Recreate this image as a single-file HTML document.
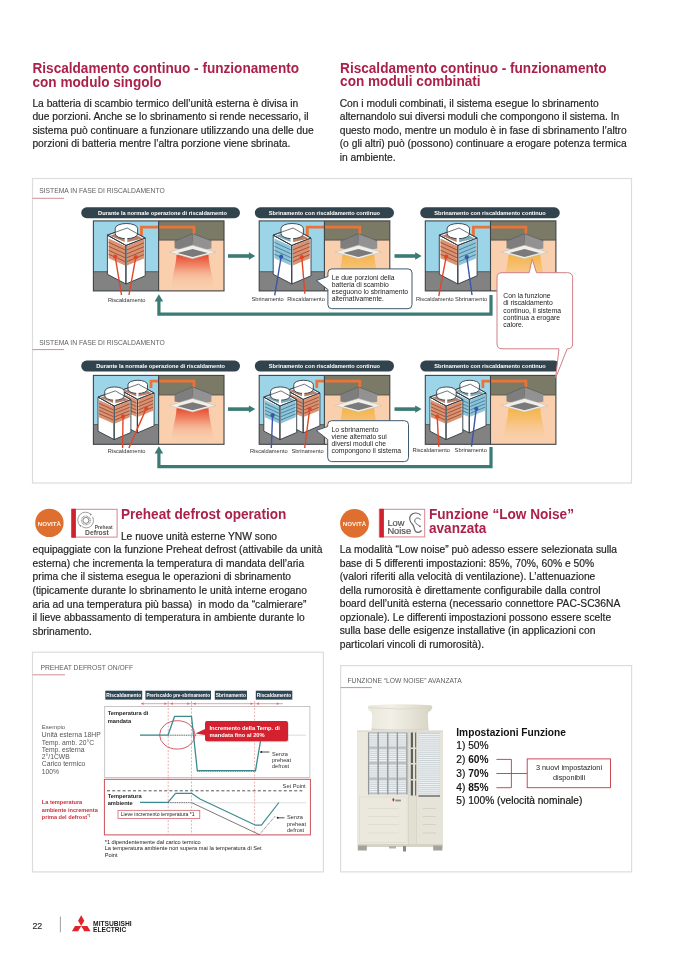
<!DOCTYPE html>
<html><head><meta charset="utf-8"><title>Riscaldamento continuo</title>
<style>
html,body{margin:0;padding:0;background:#fff;}
body{width:678px;height:959px;overflow:hidden;font-family:"Liberation Sans",sans-serif;}
svg{display:block;filter:blur(0.45px);font-family:"Liberation Sans",sans-serif;}
</style></head><body>
<svg width="678" height="959" viewBox="0 0 678 959">
<defs>
<linearGradient id="gr" x1="0" y1="0" x2="0" y2="1"><stop offset="0" stop-color="#e6492f"/><stop offset="0.3" stop-color="#ee7a5a" stop-opacity="0.85"/><stop offset="0.6" stop-color="#f4a88a" stop-opacity="0.45"/><stop offset="1" stop-color="#f9cfad" stop-opacity="0"/></linearGradient>
<linearGradient id="gy" x1="0" y1="0" x2="0" y2="1"><stop offset="0" stop-color="#f5b446"/><stop offset="0.35" stop-color="#f6bd66" stop-opacity="0.8"/><stop offset="0.7" stop-color="#f8c890" stop-opacity="0.4"/><stop offset="1" stop-color="#f9cfad" stop-opacity="0"/></linearGradient>
<linearGradient id="hood" x1="0" y1="0" x2="1" y2="0"><stop offset="0" stop-color="#e9e6da"/><stop offset="0.35" stop-color="#f2f0e7"/><stop offset="0.75" stop-color="#e2dfd2"/><stop offset="1" stop-color="#d6d2c3"/></linearGradient>
</defs>
<text transform="translate(32.5,72.8) scale(1,1.03)" x="0" y="0" font-size="13.6" fill="#ab214b" font-weight="bold">Riscaldamento continuo - funzionamento</text>
<text transform="translate(32.5,86.6) scale(1,1.03)" x="0" y="0" font-size="13.6" fill="#ab214b" font-weight="bold">con modulo singolo</text>
<text transform="translate(340.1,72.8) scale(1,1.03)" x="0" y="0" font-size="13.6" fill="#ab214b" font-weight="bold">Riscaldamento continuo - funzionamento</text>
<text transform="translate(340.1,86.4) scale(1,1.03)" x="0" y="0" font-size="13.6" fill="#ab214b" font-weight="bold">con moduli combinati</text>
<text x="32.4" y="106.75" font-size="10.27" fill="#1f1f1f" stroke="#1f1f1f" stroke-width="0.18">La batteria di scambio termico dell’unità esterna è divisa in</text>
<text x="32.4" y="120.33" font-size="10.27" fill="#1f1f1f" stroke="#1f1f1f" stroke-width="0.18">due porzioni. Anche se lo sbrinamento si rende necessario, il</text>
<text x="32.4" y="133.91" font-size="10.27" fill="#1f1f1f" stroke="#1f1f1f" stroke-width="0.18">sistema può continuare a funzionare utilizzando una delle due</text>
<text x="32.4" y="147.49" font-size="10.27" fill="#1f1f1f" stroke="#1f1f1f" stroke-width="0.18">porzioni di batteria mentre l’altra porzione viene sbrinata.</text>
<text x="339.7" y="106.6" font-size="10.27" fill="#1f1f1f" stroke="#1f1f1f" stroke-width="0.18">Con i moduli combinati, il sistema esegue lo sbrinamento</text>
<text x="339.7" y="120.2" font-size="10.27" fill="#1f1f1f" stroke="#1f1f1f" stroke-width="0.18">alternandolo sui diversi moduli che compongono il sistema. In</text>
<text x="339.7" y="133.8" font-size="10.27" fill="#1f1f1f" stroke="#1f1f1f" stroke-width="0.18">questo modo, mentre un modulo è in fase di sbrinamento l’altro</text>
<text x="339.7" y="147.4" font-size="10.27" fill="#1f1f1f" stroke="#1f1f1f" stroke-width="0.18">(o gli altri) può (possono) continuare a erogare potenza termica</text>
<text x="339.7" y="161.0" font-size="10.27" fill="#1f1f1f" stroke="#1f1f1f" stroke-width="0.18">in ambiente.</text>
<rect x="32.5" y="178.5" width="599" height="304.5" fill="#fff" stroke="#dcdcdc" stroke-width="1.2"/>
<text x="39.2" y="193.3" font-size="6.75" fill="#5e5e5e">SISTEMA IN FASE DI RISCALDAMENTO</text>
<line x1="32.5" y1="198.3" x2="64" y2="198.3" stroke="#cf8f96" stroke-width="1"/>
<text x="39.2" y="344.5" font-size="6.75" fill="#5e5e5e">SISTEMA IN FASE DI RISCALDAMENTO</text>
<line x1="32.5" y1="349.6" x2="64" y2="349.6" stroke="#cf8f96" stroke-width="1"/>
<rect x="81.2" y="207.3" width="158.8" height="10.899999999999977" rx="5.449999999999989" fill="#31434c"/>
<text x="162.5" y="214.75" font-size="5.65" fill="#fff" font-weight="bold" text-anchor="middle">Durante la normale operazione di riscaldamento</text>
<rect x="254.8" y="207.3" width="139.2" height="10.899999999999977" rx="5.449999999999989" fill="#31434c"/>
<text x="324.4" y="214.75" font-size="5.65" fill="#fff" font-weight="bold" text-anchor="middle">Sbrinamento con riscaldamento continuo</text>
<rect x="420.2" y="207.3" width="139.59999999999997" height="10.899999999999977" rx="5.449999999999989" fill="#31434c"/>
<text x="490.0" y="214.75" font-size="5.65" fill="#fff" font-weight="bold" text-anchor="middle">Sbrinamento con riscaldamento continuo</text>
<rect x="93.4" y="220.9" width="130.6" height="70.0" fill="#9dd5e8"/>
<rect x="93.4" y="271.7" width="65.19999999999999" height="19.19999999999999" fill="#828282"/>
<line x1="93.4" y1="271.7" x2="158.6" y2="271.7" stroke="#4a4a4a" stroke-width="0.8"/>
<rect x="158.6" y="220.9" width="65.4" height="70.0" fill="#f9cfad"/>
<rect x="158.6" y="220.9" width="65.4" height="19.2" fill="#7b7a66"/>
<line x1="158.6" y1="240.1" x2="224.0" y2="240.1" stroke="#4d4d44" stroke-width="0.8"/>
<path d="M176.5,255 L208.5,255 C209.0,267 213.5,276.29999999999995 213.5,290.29999999999995 L171.5,290.29999999999995 C171.5,276.29999999999995 176.0,267 176.5,255 Z" fill="url(#gr)"/>
<polygon points="174.60,241.20 192.60,233.60 192.60,251.50 174.60,248.20" fill="#7e7e7e"/>
<polygon points="192.60,233.60 211.40,240.80 211.40,248.50 192.60,251.50" fill="#929292"/>
<polyline points="174.60,241.20 192.60,233.60 211.40,240.80" fill="none" stroke="#5f5f5f" stroke-width="0.8"/>
<line x1="192.6" y1="233.6" x2="192.6" y2="251" stroke="#6a6a6a" stroke-width="0.6"/>
<polygon points="169.40,252.20 192.60,245.20 215.70,252.20 192.60,258.80" fill="#f1efe9" stroke="#bdbab2" stroke-width="0.5"/>
<polygon points="177.50,253.00 192.60,249.00 207.70,253.00 192.60,257.00" fill="#7a7a7a"/>
<polyline points="141.50,236.00 141.50,227.20 194.00,227.20 194.00,233.80" fill="none" stroke="#e8743a" stroke-width="2.8"/>
<line x1="158.6" y1="220.9" x2="158.6" y2="290.9" stroke="#3f4447" stroke-width="1.1"/>
<rect x="93.4" y="220.9" width="130.6" height="70.0" fill="none" stroke="#3f4447" stroke-width="1.1"/>
<polygon points="107.40,235.10 126.00,245.40 126.00,284.00 107.40,274.30" fill="#fff" stroke="#2f3c44" stroke-width="0.9" stroke-linejoin="round"/>
<polygon points="126.00,245.40 145.20,238.10 145.20,275.80 126.00,284.00" fill="#fff" stroke="#2f3c44" stroke-width="0.9" stroke-linejoin="round"/>
<polygon points="107.40,235.10 127.20,228.00 145.20,238.10 126.00,245.40" fill="#fff" stroke="#2f3c44" stroke-width="0.9" stroke-linejoin="round"/>
<polygon points="110.00,235.80 126.60,229.80 126.00,242.50" fill="#b88068"/>
<polygon points="126.60,229.80 142.80,238.40 126.00,242.50" fill="#b88068"/>
<path d="M115.20,228.40 A11.20,4.90 0 0 1 137.60,228.40 V233.80 A11.20,4.90 0 0 1 115.20,233.80 Z" fill="#fff" stroke="#2f3c44" stroke-width="0.9"/>
<polygon points="124.70,234.00 127.30,234.00 127.30,244.50 124.70,244.50" fill="#fff"/>
<polyline points="107.40,235.10 127.20,228.00 145.20,238.10" fill="none" stroke="#2f3c44" stroke-width="0.7"/>
<polyline points="107.40,235.10 126.00,245.40 145.20,238.10" fill="none" stroke="#2f3c44" stroke-width="0.9"/>
<polygon points="108.60,238.40 125.00,246.00 125.00,265.40 108.60,258.20" fill="#dc9270"/>
<line x1="108.60" y1="242.36" x2="125.00" y2="249.88" stroke="#8f4c36" stroke-width="0.85"/>
<line x1="108.60" y1="246.32" x2="125.00" y2="253.76" stroke="#8f4c36" stroke-width="0.85"/>
<line x1="108.60" y1="250.28" x2="125.00" y2="257.64" stroke="#8f4c36" stroke-width="0.85"/>
<line x1="108.60" y1="254.24" x2="125.00" y2="261.52" stroke="#8f4c36" stroke-width="0.85"/>
<polygon points="127.00,246.00 144.00,239.00 144.00,258.40 127.00,265.40" fill="#dc9270"/>
<line x1="127.00" y1="249.88" x2="144.00" y2="242.88" stroke="#8f4c36" stroke-width="0.85"/>
<line x1="127.00" y1="253.76" x2="144.00" y2="246.76" stroke="#8f4c36" stroke-width="0.85"/>
<line x1="127.00" y1="257.64" x2="144.00" y2="250.64" stroke="#8f4c36" stroke-width="0.85"/>
<line x1="127.00" y1="261.52" x2="144.00" y2="254.52" stroke="#8f4c36" stroke-width="0.85"/>
<line x1="126.00" y1="245.40" x2="126.00" y2="284.00" stroke="#2f3c44" stroke-width="0.7"/>
<rect x="259.20000000000005" y="220.9" width="130.6" height="70.0" fill="#9dd5e8"/>
<rect x="259.20000000000005" y="271.7" width="65.19999999999993" height="19.19999999999999" fill="#828282"/>
<line x1="259.20000000000005" y1="271.7" x2="324.4" y2="271.7" stroke="#4a4a4a" stroke-width="0.8"/>
<rect x="324.4" y="220.9" width="65.40000000000009" height="70.0" fill="#f9cfad"/>
<rect x="324.4" y="220.9" width="65.40000000000009" height="19.2" fill="#7b7a66"/>
<line x1="324.4" y1="240.1" x2="389.80000000000007" y2="240.1" stroke="#4d4d44" stroke-width="0.8"/>
<path d="M342.3,255 L374.3,255 C374.8,267 379.3,276.29999999999995 379.3,290.29999999999995 L337.3,290.29999999999995 C337.3,276.29999999999995 341.8,267 342.3,255 Z" fill="url(#gy)"/>
<polygon points="340.40,241.20 358.40,233.60 358.40,251.50 340.40,248.20" fill="#7e7e7e"/>
<polygon points="358.40,233.60 377.20,240.80 377.20,248.50 358.40,251.50" fill="#929292"/>
<polyline points="340.40,241.20 358.40,233.60 377.20,240.80" fill="none" stroke="#5f5f5f" stroke-width="0.8"/>
<line x1="358.4" y1="233.6" x2="358.4" y2="251" stroke="#6a6a6a" stroke-width="0.6"/>
<polygon points="335.20,252.20 358.40,245.20 381.50,252.20 358.40,258.80" fill="#f1efe9" stroke="#bdbab2" stroke-width="0.5"/>
<polygon points="343.30,253.00 358.40,249.00 373.50,253.00 358.40,257.00" fill="#7a7a7a"/>
<polyline points="307.30,236.00 307.30,227.20 359.80,227.20 359.80,233.80" fill="none" stroke="#e8743a" stroke-width="2.8"/>
<line x1="324.4" y1="220.9" x2="324.4" y2="290.9" stroke="#3f4447" stroke-width="1.1"/>
<rect x="259.20000000000005" y="220.9" width="130.6" height="70.0" fill="none" stroke="#3f4447" stroke-width="1.1"/>
<polygon points="273.20,235.10 291.80,245.40 291.80,284.00 273.20,274.30" fill="#fff" stroke="#2f3c44" stroke-width="0.9" stroke-linejoin="round"/>
<polygon points="291.80,245.40 311.00,238.10 311.00,275.80 291.80,284.00" fill="#fff" stroke="#2f3c44" stroke-width="0.9" stroke-linejoin="round"/>
<polygon points="273.20,235.10 293.00,228.00 311.00,238.10 291.80,245.40" fill="#fff" stroke="#2f3c44" stroke-width="0.9" stroke-linejoin="round"/>
<polygon points="275.80,235.80 292.40,229.80 291.80,242.50" fill="#7fa9b8"/>
<polygon points="292.40,229.80 308.60,238.40 291.80,242.50" fill="#b88068"/>
<path d="M281.00,228.40 A11.20,4.90 0 0 1 303.40,228.40 V233.80 A11.20,4.90 0 0 1 281.00,233.80 Z" fill="#fff" stroke="#2f3c44" stroke-width="0.9"/>
<polygon points="290.50,234.00 293.10,234.00 293.10,244.50 290.50,244.50" fill="#fff"/>
<polyline points="273.20,235.10 293.00,228.00 311.00,238.10" fill="none" stroke="#2f3c44" stroke-width="0.7"/>
<polyline points="273.20,235.10 291.80,245.40 311.00,238.10" fill="none" stroke="#2f3c44" stroke-width="0.9"/>
<polygon points="274.40,238.40 290.80,246.00 290.80,265.40 274.40,258.20" fill="#8fc5da"/>
<line x1="274.40" y1="242.36" x2="290.80" y2="249.88" stroke="#3b7a95" stroke-width="0.85"/>
<line x1="274.40" y1="246.32" x2="290.80" y2="253.76" stroke="#3b7a95" stroke-width="0.85"/>
<line x1="274.40" y1="250.28" x2="290.80" y2="257.64" stroke="#3b7a95" stroke-width="0.85"/>
<line x1="274.40" y1="254.24" x2="290.80" y2="261.52" stroke="#3b7a95" stroke-width="0.85"/>
<polygon points="292.80,246.00 309.80,239.00 309.80,258.40 292.80,265.40" fill="#dc9270"/>
<line x1="292.80" y1="249.88" x2="309.80" y2="242.88" stroke="#8f4c36" stroke-width="0.85"/>
<line x1="292.80" y1="253.76" x2="309.80" y2="246.76" stroke="#8f4c36" stroke-width="0.85"/>
<line x1="292.80" y1="257.64" x2="309.80" y2="250.64" stroke="#8f4c36" stroke-width="0.85"/>
<line x1="292.80" y1="261.52" x2="309.80" y2="254.52" stroke="#8f4c36" stroke-width="0.85"/>
<line x1="291.80" y1="245.40" x2="291.80" y2="284.00" stroke="#2f3c44" stroke-width="0.7"/>
<rect x="425.29999999999995" y="220.9" width="130.6" height="70.0" fill="#9dd5e8"/>
<rect x="425.29999999999995" y="271.7" width="65.20000000000005" height="19.19999999999999" fill="#828282"/>
<line x1="425.29999999999995" y1="271.7" x2="490.5" y2="271.7" stroke="#4a4a4a" stroke-width="0.8"/>
<rect x="490.5" y="220.9" width="65.39999999999998" height="70.0" fill="#f9cfad"/>
<rect x="490.5" y="220.9" width="65.39999999999998" height="19.2" fill="#7b7a66"/>
<line x1="490.5" y1="240.1" x2="555.9" y2="240.1" stroke="#4d4d44" stroke-width="0.8"/>
<path d="M508.4,255 L540.4,255 C540.9,267 545.4,276.29999999999995 545.4,290.29999999999995 L503.4,290.29999999999995 C503.4,276.29999999999995 507.9,267 508.4,255 Z" fill="url(#gy)"/>
<polygon points="506.50,241.20 524.50,233.60 524.50,251.50 506.50,248.20" fill="#7e7e7e"/>
<polygon points="524.50,233.60 543.30,240.80 543.30,248.50 524.50,251.50" fill="#929292"/>
<polyline points="506.50,241.20 524.50,233.60 543.30,240.80" fill="none" stroke="#5f5f5f" stroke-width="0.8"/>
<line x1="524.5" y1="233.6" x2="524.5" y2="251" stroke="#6a6a6a" stroke-width="0.6"/>
<polygon points="501.30,252.20 524.50,245.20 547.60,252.20 524.50,258.80" fill="#f1efe9" stroke="#bdbab2" stroke-width="0.5"/>
<polygon points="509.40,253.00 524.50,249.00 539.60,253.00 524.50,257.00" fill="#7a7a7a"/>
<polyline points="473.40,236.00 473.40,227.20 525.90,227.20 525.90,233.80" fill="none" stroke="#e8743a" stroke-width="2.8"/>
<line x1="490.5" y1="220.9" x2="490.5" y2="290.9" stroke="#3f4447" stroke-width="1.1"/>
<rect x="425.29999999999995" y="220.9" width="130.6" height="70.0" fill="none" stroke="#3f4447" stroke-width="1.1"/>
<polygon points="439.30,235.10 457.90,245.40 457.90,284.00 439.30,274.30" fill="#fff" stroke="#2f3c44" stroke-width="0.9" stroke-linejoin="round"/>
<polygon points="457.90,245.40 477.10,238.10 477.10,275.80 457.90,284.00" fill="#fff" stroke="#2f3c44" stroke-width="0.9" stroke-linejoin="round"/>
<polygon points="439.30,235.10 459.10,228.00 477.10,238.10 457.90,245.40" fill="#fff" stroke="#2f3c44" stroke-width="0.9" stroke-linejoin="round"/>
<polygon points="441.90,235.80 458.50,229.80 457.90,242.50" fill="#b88068"/>
<polygon points="458.50,229.80 474.70,238.40 457.90,242.50" fill="#7fa9b8"/>
<path d="M447.10,228.40 A11.20,4.90 0 0 1 469.50,228.40 V233.80 A11.20,4.90 0 0 1 447.10,233.80 Z" fill="#fff" stroke="#2f3c44" stroke-width="0.9"/>
<polygon points="456.60,234.00 459.20,234.00 459.20,244.50 456.60,244.50" fill="#fff"/>
<polyline points="439.30,235.10 459.10,228.00 477.10,238.10" fill="none" stroke="#2f3c44" stroke-width="0.7"/>
<polyline points="439.30,235.10 457.90,245.40 477.10,238.10" fill="none" stroke="#2f3c44" stroke-width="0.9"/>
<polygon points="440.50,238.40 456.90,246.00 456.90,265.40 440.50,258.20" fill="#dc9270"/>
<line x1="440.50" y1="242.36" x2="456.90" y2="249.88" stroke="#8f4c36" stroke-width="0.85"/>
<line x1="440.50" y1="246.32" x2="456.90" y2="253.76" stroke="#8f4c36" stroke-width="0.85"/>
<line x1="440.50" y1="250.28" x2="456.90" y2="257.64" stroke="#8f4c36" stroke-width="0.85"/>
<line x1="440.50" y1="254.24" x2="456.90" y2="261.52" stroke="#8f4c36" stroke-width="0.85"/>
<polygon points="458.90,246.00 475.90,239.00 475.90,258.40 458.90,265.40" fill="#8fc5da"/>
<line x1="458.90" y1="249.88" x2="475.90" y2="242.88" stroke="#3b7a95" stroke-width="0.85"/>
<line x1="458.90" y1="253.76" x2="475.90" y2="246.76" stroke="#3b7a95" stroke-width="0.85"/>
<line x1="458.90" y1="257.64" x2="475.90" y2="250.64" stroke="#3b7a95" stroke-width="0.85"/>
<line x1="458.90" y1="261.52" x2="475.90" y2="254.52" stroke="#3b7a95" stroke-width="0.85"/>
<line x1="457.90" y1="245.40" x2="457.90" y2="284.00" stroke="#2f3c44" stroke-width="0.7"/>
<line x1="228" y1="256.0" x2="249.8" y2="256.0" stroke="#3b7b75" stroke-width="3.6"/>
<polygon points="248.90,252.30 255.30,256.00 248.90,259.70" fill="#3b7b75"/>
<line x1="394.5" y1="256.0" x2="416.1" y2="256.0" stroke="#3b7b75" stroke-width="3.6"/>
<polygon points="415.20,252.30 421.60,256.00 415.20,259.70" fill="#3b7b75"/>
<rect x="81.2" y="360.6" width="158.8" height="10.899999999999977" rx="5.449999999999989" fill="#31434c"/>
<text x="160.6" y="368.05" font-size="5.65" fill="#fff" font-weight="bold" text-anchor="middle">Durante la normale operazione di riscaldamento</text>
<rect x="254.8" y="360.6" width="139.2" height="10.899999999999977" rx="5.449999999999989" fill="#31434c"/>
<text x="324.4" y="368.05" font-size="5.65" fill="#fff" font-weight="bold" text-anchor="middle">Sbrinamento con riscaldamento continuo</text>
<rect x="420.2" y="360.6" width="139.59999999999997" height="10.899999999999977" rx="5.449999999999989" fill="#31434c"/>
<text x="490.0" y="368.05" font-size="5.65" fill="#fff" font-weight="bold" text-anchor="middle">Sbrinamento con riscaldamento continuo</text>
<rect x="93.4" y="375.4" width="130.6" height="68.9" fill="#9dd5e8"/>
<rect x="93.4" y="424.6" width="65.19999999999999" height="19.699999999999932" fill="#828282"/>
<line x1="93.4" y1="424.6" x2="158.6" y2="424.6" stroke="#4a4a4a" stroke-width="0.8"/>
<rect x="158.6" y="375.4" width="65.4" height="68.9" fill="#f9cfad"/>
<rect x="158.6" y="375.4" width="65.4" height="19.6" fill="#7b7a66"/>
<line x1="158.6" y1="395.0" x2="224.0" y2="395.0" stroke="#4d4d44" stroke-width="0.8"/>
<path d="M176.5,408.3 L208.5,408.3 C209.0,420.3 213.5,429.69999999999993 213.5,443.69999999999993 L171.5,443.69999999999993 C171.5,429.69999999999993 176.0,420.3 176.5,408.3 Z" fill="url(#gr)"/>
<polygon points="174.60,394.50 192.60,386.90 192.60,404.80 174.60,401.50" fill="#7e7e7e"/>
<polygon points="192.60,386.90 211.40,394.10 211.40,401.80 192.60,404.80" fill="#929292"/>
<polyline points="174.60,394.50 192.60,386.90 211.40,394.10" fill="none" stroke="#5f5f5f" stroke-width="0.8"/>
<line x1="192.6" y1="386.9" x2="192.6" y2="404.3" stroke="#6a6a6a" stroke-width="0.6"/>
<polygon points="169.40,405.50 192.60,398.50 215.70,405.50 192.60,412.10" fill="#f1efe9" stroke="#bdbab2" stroke-width="0.5"/>
<polygon points="177.50,406.30 192.60,402.30 207.70,406.30 192.60,410.30" fill="#7a7a7a"/>
<polyline points="151.00,388.00 151.00,381.20 194.00,381.20 194.00,387.10" fill="none" stroke="#e8743a" stroke-width="2.8"/>
<line x1="158.6" y1="375.4" x2="158.6" y2="444.29999999999995" stroke="#3f4447" stroke-width="1.1"/>
<rect x="93.4" y="375.4" width="130.6" height="68.9" fill="none" stroke="#3f4447" stroke-width="1.1"/>
<polygon points="121.22,390.36 137.40,399.32 137.40,432.90 121.22,424.46" fill="#fff" stroke="#2f3c44" stroke-width="0.9" stroke-linejoin="round"/>
<polygon points="137.40,399.32 154.10,392.97 154.10,425.77 137.40,432.90" fill="#fff" stroke="#2f3c44" stroke-width="0.9" stroke-linejoin="round"/>
<polygon points="121.22,390.36 138.44,384.18 154.10,392.97 137.40,399.32" fill="#fff" stroke="#2f3c44" stroke-width="0.9" stroke-linejoin="round"/>
<polygon points="123.48,390.97 137.92,385.75 137.40,396.79" fill="#b88068"/>
<polygon points="137.92,385.75 152.02,393.23 137.40,396.79" fill="#b88068"/>
<path d="M128.00,384.53 A9.74,4.26 0 0 1 147.49,384.53 V389.23 A9.74,4.26 0 0 1 128.00,389.23 Z" fill="#fff" stroke="#2f3c44" stroke-width="0.9"/>
<polygon points="136.27,389.40 138.53,389.40 138.53,398.53 136.27,398.53" fill="#fff"/>
<polyline points="121.22,390.36 138.44,384.18 154.10,392.97" fill="none" stroke="#2f3c44" stroke-width="0.7"/>
<polyline points="121.22,390.36 137.40,399.32 154.10,392.97" fill="none" stroke="#2f3c44" stroke-width="0.9"/>
<polygon points="122.26,393.23 136.53,399.84 136.53,416.72 122.26,410.45" fill="#dc9270"/>
<line x1="122.26" y1="396.67" x2="136.53" y2="403.22" stroke="#8f4c36" stroke-width="0.85"/>
<line x1="122.26" y1="400.12" x2="136.53" y2="406.59" stroke="#8f4c36" stroke-width="0.85"/>
<line x1="122.26" y1="403.56" x2="136.53" y2="409.97" stroke="#8f4c36" stroke-width="0.85"/>
<line x1="122.26" y1="407.01" x2="136.53" y2="413.34" stroke="#8f4c36" stroke-width="0.85"/>
<polygon points="138.27,399.84 153.06,393.75 153.06,410.63 138.27,416.72" fill="#dc9270"/>
<line x1="138.27" y1="403.22" x2="153.06" y2="397.13" stroke="#8f4c36" stroke-width="0.85"/>
<line x1="138.27" y1="406.59" x2="153.06" y2="400.50" stroke="#8f4c36" stroke-width="0.85"/>
<line x1="138.27" y1="409.97" x2="153.06" y2="403.88" stroke="#8f4c36" stroke-width="0.85"/>
<line x1="138.27" y1="413.34" x2="153.06" y2="407.25" stroke="#8f4c36" stroke-width="0.85"/>
<line x1="137.40" y1="399.32" x2="137.40" y2="432.90" stroke="#2f3c44" stroke-width="0.7"/>
<polygon points="98.02,397.06 114.20,406.02 114.20,439.60 98.02,431.16" fill="#fff" stroke="#2f3c44" stroke-width="0.9" stroke-linejoin="round"/>
<polygon points="114.20,406.02 130.90,399.67 130.90,432.47 114.20,439.60" fill="#fff" stroke="#2f3c44" stroke-width="0.9" stroke-linejoin="round"/>
<polygon points="98.02,397.06 115.24,390.88 130.90,399.67 114.20,406.02" fill="#fff" stroke="#2f3c44" stroke-width="0.9" stroke-linejoin="round"/>
<polygon points="100.28,397.67 114.72,392.45 114.20,403.50" fill="#b88068"/>
<polygon points="114.72,392.45 128.82,399.93 114.20,403.50" fill="#b88068"/>
<path d="M104.80,391.23 A9.74,4.26 0 0 1 124.29,391.23 V395.93 A9.74,4.26 0 0 1 104.80,395.93 Z" fill="#fff" stroke="#2f3c44" stroke-width="0.9"/>
<polygon points="113.07,396.10 115.33,396.10 115.33,405.24 113.07,405.24" fill="#fff"/>
<polyline points="98.02,397.06 115.24,390.88 130.90,399.67" fill="none" stroke="#2f3c44" stroke-width="0.7"/>
<polyline points="98.02,397.06 114.20,406.02 130.90,399.67" fill="none" stroke="#2f3c44" stroke-width="0.9"/>
<polygon points="99.06,399.93 113.33,406.54 113.33,423.42 99.06,417.15" fill="#dc9270"/>
<line x1="99.06" y1="403.37" x2="113.33" y2="409.92" stroke="#8f4c36" stroke-width="0.85"/>
<line x1="99.06" y1="406.82" x2="113.33" y2="413.29" stroke="#8f4c36" stroke-width="0.85"/>
<line x1="99.06" y1="410.26" x2="113.33" y2="416.67" stroke="#8f4c36" stroke-width="0.85"/>
<line x1="99.06" y1="413.71" x2="113.33" y2="420.04" stroke="#8f4c36" stroke-width="0.85"/>
<polygon points="115.07,406.54 129.86,400.45 129.86,417.33 115.07,423.42" fill="#dc9270"/>
<line x1="115.07" y1="409.92" x2="129.86" y2="403.83" stroke="#8f4c36" stroke-width="0.85"/>
<line x1="115.07" y1="413.29" x2="129.86" y2="407.20" stroke="#8f4c36" stroke-width="0.85"/>
<line x1="115.07" y1="416.67" x2="129.86" y2="410.58" stroke="#8f4c36" stroke-width="0.85"/>
<line x1="115.07" y1="420.04" x2="129.86" y2="413.95" stroke="#8f4c36" stroke-width="0.85"/>
<line x1="114.20" y1="406.02" x2="114.20" y2="439.60" stroke="#2f3c44" stroke-width="0.7"/>
<rect x="259.20000000000005" y="375.4" width="130.6" height="68.9" fill="#9dd5e8"/>
<rect x="259.20000000000005" y="424.6" width="65.19999999999993" height="19.699999999999932" fill="#828282"/>
<line x1="259.20000000000005" y1="424.6" x2="324.4" y2="424.6" stroke="#4a4a4a" stroke-width="0.8"/>
<rect x="324.4" y="375.4" width="65.40000000000009" height="68.9" fill="#f9cfad"/>
<rect x="324.4" y="375.4" width="65.40000000000009" height="19.6" fill="#7b7a66"/>
<line x1="324.4" y1="395.0" x2="389.80000000000007" y2="395.0" stroke="#4d4d44" stroke-width="0.8"/>
<path d="M342.3,408.3 L374.3,408.3 C374.8,420.3 379.3,429.69999999999993 379.3,443.69999999999993 L337.3,443.69999999999993 C337.3,429.69999999999993 341.8,420.3 342.3,408.3 Z" fill="url(#gy)"/>
<polygon points="340.40,394.50 358.40,386.90 358.40,404.80 340.40,401.50" fill="#7e7e7e"/>
<polygon points="358.40,386.90 377.20,394.10 377.20,401.80 358.40,404.80" fill="#929292"/>
<polyline points="340.40,394.50 358.40,386.90 377.20,394.10" fill="none" stroke="#5f5f5f" stroke-width="0.8"/>
<line x1="358.4" y1="386.9" x2="358.4" y2="404.3" stroke="#6a6a6a" stroke-width="0.6"/>
<polygon points="335.20,405.50 358.40,398.50 381.50,405.50 358.40,412.10" fill="#f1efe9" stroke="#bdbab2" stroke-width="0.5"/>
<polygon points="343.30,406.30 358.40,402.30 373.50,406.30 358.40,410.30" fill="#7a7a7a"/>
<polyline points="316.80,388.00 316.80,381.20 359.80,381.20 359.80,387.10" fill="none" stroke="#e8743a" stroke-width="2.8"/>
<line x1="324.4" y1="375.4" x2="324.4" y2="444.29999999999995" stroke="#3f4447" stroke-width="1.1"/>
<rect x="259.20000000000005" y="375.4" width="130.6" height="68.9" fill="none" stroke="#3f4447" stroke-width="1.1"/>
<polygon points="287.02,390.36 303.20,399.32 303.20,432.90 287.02,424.46" fill="#fff" stroke="#2f3c44" stroke-width="0.9" stroke-linejoin="round"/>
<polygon points="303.20,399.32 319.90,392.97 319.90,425.77 303.20,432.90" fill="#fff" stroke="#2f3c44" stroke-width="0.9" stroke-linejoin="round"/>
<polygon points="287.02,390.36 304.24,384.18 319.90,392.97 303.20,399.32" fill="#fff" stroke="#2f3c44" stroke-width="0.9" stroke-linejoin="round"/>
<polygon points="289.28,390.97 303.72,385.75 303.20,396.79" fill="#b88068"/>
<polygon points="303.72,385.75 317.82,393.23 303.20,396.79" fill="#b88068"/>
<path d="M293.80,384.53 A9.74,4.26 0 0 1 313.29,384.53 V389.23 A9.74,4.26 0 0 1 293.80,389.23 Z" fill="#fff" stroke="#2f3c44" stroke-width="0.9"/>
<polygon points="302.07,389.40 304.33,389.40 304.33,398.53 302.07,398.53" fill="#fff"/>
<polyline points="287.02,390.36 304.24,384.18 319.90,392.97" fill="none" stroke="#2f3c44" stroke-width="0.7"/>
<polyline points="287.02,390.36 303.20,399.32 319.90,392.97" fill="none" stroke="#2f3c44" stroke-width="0.9"/>
<polygon points="288.06,393.23 302.33,399.84 302.33,416.72 288.06,410.45" fill="#dc9270"/>
<line x1="288.06" y1="396.67" x2="302.33" y2="403.22" stroke="#8f4c36" stroke-width="0.85"/>
<line x1="288.06" y1="400.12" x2="302.33" y2="406.59" stroke="#8f4c36" stroke-width="0.85"/>
<line x1="288.06" y1="403.56" x2="302.33" y2="409.97" stroke="#8f4c36" stroke-width="0.85"/>
<line x1="288.06" y1="407.01" x2="302.33" y2="413.34" stroke="#8f4c36" stroke-width="0.85"/>
<polygon points="304.07,399.84 318.86,393.75 318.86,410.63 304.07,416.72" fill="#dc9270"/>
<line x1="304.07" y1="403.22" x2="318.86" y2="397.13" stroke="#8f4c36" stroke-width="0.85"/>
<line x1="304.07" y1="406.59" x2="318.86" y2="400.50" stroke="#8f4c36" stroke-width="0.85"/>
<line x1="304.07" y1="409.97" x2="318.86" y2="403.88" stroke="#8f4c36" stroke-width="0.85"/>
<line x1="304.07" y1="413.34" x2="318.86" y2="407.25" stroke="#8f4c36" stroke-width="0.85"/>
<line x1="303.20" y1="399.32" x2="303.20" y2="432.90" stroke="#2f3c44" stroke-width="0.7"/>
<polygon points="263.82,397.06 280.00,406.02 280.00,439.60 263.82,431.16" fill="#fff" stroke="#2f3c44" stroke-width="0.9" stroke-linejoin="round"/>
<polygon points="280.00,406.02 296.70,399.67 296.70,432.47 280.00,439.60" fill="#fff" stroke="#2f3c44" stroke-width="0.9" stroke-linejoin="round"/>
<polygon points="263.82,397.06 281.04,390.88 296.70,399.67 280.00,406.02" fill="#fff" stroke="#2f3c44" stroke-width="0.9" stroke-linejoin="round"/>
<polygon points="266.08,397.67 280.52,392.45 280.00,403.50" fill="#7fa9b8"/>
<polygon points="280.52,392.45 294.62,399.93 280.00,403.50" fill="#7fa9b8"/>
<path d="M270.60,391.23 A9.74,4.26 0 0 1 290.09,391.23 V395.93 A9.74,4.26 0 0 1 270.60,395.93 Z" fill="#fff" stroke="#2f3c44" stroke-width="0.9"/>
<polygon points="278.87,396.10 281.13,396.10 281.13,405.24 278.87,405.24" fill="#fff"/>
<polyline points="263.82,397.06 281.04,390.88 296.70,399.67" fill="none" stroke="#2f3c44" stroke-width="0.7"/>
<polyline points="263.82,397.06 280.00,406.02 296.70,399.67" fill="none" stroke="#2f3c44" stroke-width="0.9"/>
<polygon points="264.86,399.93 279.13,406.54 279.13,423.42 264.86,417.15" fill="#8fc5da"/>
<line x1="264.86" y1="403.37" x2="279.13" y2="409.92" stroke="#3b7a95" stroke-width="0.85"/>
<line x1="264.86" y1="406.82" x2="279.13" y2="413.29" stroke="#3b7a95" stroke-width="0.85"/>
<line x1="264.86" y1="410.26" x2="279.13" y2="416.67" stroke="#3b7a95" stroke-width="0.85"/>
<line x1="264.86" y1="413.71" x2="279.13" y2="420.04" stroke="#3b7a95" stroke-width="0.85"/>
<polygon points="280.87,406.54 295.66,400.45 295.66,417.33 280.87,423.42" fill="#8fc5da"/>
<line x1="280.87" y1="409.92" x2="295.66" y2="403.83" stroke="#3b7a95" stroke-width="0.85"/>
<line x1="280.87" y1="413.29" x2="295.66" y2="407.20" stroke="#3b7a95" stroke-width="0.85"/>
<line x1="280.87" y1="416.67" x2="295.66" y2="410.58" stroke="#3b7a95" stroke-width="0.85"/>
<line x1="280.87" y1="420.04" x2="295.66" y2="413.95" stroke="#3b7a95" stroke-width="0.85"/>
<line x1="280.00" y1="406.02" x2="280.00" y2="439.60" stroke="#2f3c44" stroke-width="0.7"/>
<rect x="425.29999999999995" y="375.4" width="130.6" height="68.9" fill="#9dd5e8"/>
<rect x="425.29999999999995" y="424.6" width="65.20000000000005" height="19.699999999999932" fill="#828282"/>
<line x1="425.29999999999995" y1="424.6" x2="490.5" y2="424.6" stroke="#4a4a4a" stroke-width="0.8"/>
<rect x="490.5" y="375.4" width="65.39999999999998" height="68.9" fill="#f9cfad"/>
<rect x="490.5" y="375.4" width="65.39999999999998" height="19.6" fill="#7b7a66"/>
<line x1="490.5" y1="395.0" x2="555.9" y2="395.0" stroke="#4d4d44" stroke-width="0.8"/>
<path d="M508.4,408.3 L540.4,408.3 C540.9,420.3 545.4,429.69999999999993 545.4,443.69999999999993 L503.4,443.69999999999993 C503.4,429.69999999999993 507.9,420.3 508.4,408.3 Z" fill="url(#gy)"/>
<polygon points="506.50,394.50 524.50,386.90 524.50,404.80 506.50,401.50" fill="#7e7e7e"/>
<polygon points="524.50,386.90 543.30,394.10 543.30,401.80 524.50,404.80" fill="#929292"/>
<polyline points="506.50,394.50 524.50,386.90 543.30,394.10" fill="none" stroke="#5f5f5f" stroke-width="0.8"/>
<line x1="524.5" y1="386.9" x2="524.5" y2="404.3" stroke="#6a6a6a" stroke-width="0.6"/>
<polygon points="501.30,405.50 524.50,398.50 547.60,405.50 524.50,412.10" fill="#f1efe9" stroke="#bdbab2" stroke-width="0.5"/>
<polygon points="509.40,406.30 524.50,402.30 539.60,406.30 524.50,410.30" fill="#7a7a7a"/>
<polyline points="482.90,388.00 482.90,381.20 525.90,381.20 525.90,387.10" fill="none" stroke="#e8743a" stroke-width="2.8"/>
<line x1="490.5" y1="375.4" x2="490.5" y2="444.29999999999995" stroke="#3f4447" stroke-width="1.1"/>
<rect x="425.29999999999995" y="375.4" width="130.6" height="68.9" fill="none" stroke="#3f4447" stroke-width="1.1"/>
<polygon points="453.12,390.36 469.30,399.32 469.30,432.90 453.12,424.46" fill="#fff" stroke="#2f3c44" stroke-width="0.9" stroke-linejoin="round"/>
<polygon points="469.30,399.32 486.00,392.97 486.00,425.77 469.30,432.90" fill="#fff" stroke="#2f3c44" stroke-width="0.9" stroke-linejoin="round"/>
<polygon points="453.12,390.36 470.34,384.18 486.00,392.97 469.30,399.32" fill="#fff" stroke="#2f3c44" stroke-width="0.9" stroke-linejoin="round"/>
<polygon points="455.38,390.97 469.82,385.75 469.30,396.79" fill="#7fa9b8"/>
<polygon points="469.82,385.75 483.92,393.23 469.30,396.79" fill="#7fa9b8"/>
<path d="M459.90,384.53 A9.74,4.26 0 0 1 479.39,384.53 V389.23 A9.74,4.26 0 0 1 459.90,389.23 Z" fill="#fff" stroke="#2f3c44" stroke-width="0.9"/>
<polygon points="468.17,389.40 470.43,389.40 470.43,398.53 468.17,398.53" fill="#fff"/>
<polyline points="453.12,390.36 470.34,384.18 486.00,392.97" fill="none" stroke="#2f3c44" stroke-width="0.7"/>
<polyline points="453.12,390.36 469.30,399.32 486.00,392.97" fill="none" stroke="#2f3c44" stroke-width="0.9"/>
<polygon points="454.16,393.23 468.43,399.84 468.43,416.72 454.16,410.45" fill="#8fc5da"/>
<line x1="454.16" y1="396.67" x2="468.43" y2="403.22" stroke="#3b7a95" stroke-width="0.85"/>
<line x1="454.16" y1="400.12" x2="468.43" y2="406.59" stroke="#3b7a95" stroke-width="0.85"/>
<line x1="454.16" y1="403.56" x2="468.43" y2="409.97" stroke="#3b7a95" stroke-width="0.85"/>
<line x1="454.16" y1="407.01" x2="468.43" y2="413.34" stroke="#3b7a95" stroke-width="0.85"/>
<polygon points="470.17,399.84 484.96,393.75 484.96,410.63 470.17,416.72" fill="#8fc5da"/>
<line x1="470.17" y1="403.22" x2="484.96" y2="397.13" stroke="#3b7a95" stroke-width="0.85"/>
<line x1="470.17" y1="406.59" x2="484.96" y2="400.50" stroke="#3b7a95" stroke-width="0.85"/>
<line x1="470.17" y1="409.97" x2="484.96" y2="403.88" stroke="#3b7a95" stroke-width="0.85"/>
<line x1="470.17" y1="413.34" x2="484.96" y2="407.25" stroke="#3b7a95" stroke-width="0.85"/>
<line x1="469.30" y1="399.32" x2="469.30" y2="432.90" stroke="#2f3c44" stroke-width="0.7"/>
<polygon points="429.92,397.06 446.10,406.02 446.10,439.60 429.92,431.16" fill="#fff" stroke="#2f3c44" stroke-width="0.9" stroke-linejoin="round"/>
<polygon points="446.10,406.02 462.80,399.67 462.80,432.47 446.10,439.60" fill="#fff" stroke="#2f3c44" stroke-width="0.9" stroke-linejoin="round"/>
<polygon points="429.92,397.06 447.14,390.88 462.80,399.67 446.10,406.02" fill="#fff" stroke="#2f3c44" stroke-width="0.9" stroke-linejoin="round"/>
<polygon points="432.18,397.67 446.62,392.45 446.10,403.50" fill="#b88068"/>
<polygon points="446.62,392.45 460.72,399.93 446.10,403.50" fill="#b88068"/>
<path d="M436.70,391.23 A9.74,4.26 0 0 1 456.19,391.23 V395.93 A9.74,4.26 0 0 1 436.70,395.93 Z" fill="#fff" stroke="#2f3c44" stroke-width="0.9"/>
<polygon points="444.97,396.10 447.23,396.10 447.23,405.24 444.97,405.24" fill="#fff"/>
<polyline points="429.92,397.06 447.14,390.88 462.80,399.67" fill="none" stroke="#2f3c44" stroke-width="0.7"/>
<polyline points="429.92,397.06 446.10,406.02 462.80,399.67" fill="none" stroke="#2f3c44" stroke-width="0.9"/>
<polygon points="430.96,399.93 445.23,406.54 445.23,423.42 430.96,417.15" fill="#dc9270"/>
<line x1="430.96" y1="403.37" x2="445.23" y2="409.92" stroke="#8f4c36" stroke-width="0.85"/>
<line x1="430.96" y1="406.82" x2="445.23" y2="413.29" stroke="#8f4c36" stroke-width="0.85"/>
<line x1="430.96" y1="410.26" x2="445.23" y2="416.67" stroke="#8f4c36" stroke-width="0.85"/>
<line x1="430.96" y1="413.71" x2="445.23" y2="420.04" stroke="#8f4c36" stroke-width="0.85"/>
<polygon points="446.97,406.54 461.76,400.45 461.76,417.33 446.97,423.42" fill="#dc9270"/>
<line x1="446.97" y1="409.92" x2="461.76" y2="403.83" stroke="#8f4c36" stroke-width="0.85"/>
<line x1="446.97" y1="413.29" x2="461.76" y2="407.20" stroke="#8f4c36" stroke-width="0.85"/>
<line x1="446.97" y1="416.67" x2="461.76" y2="410.58" stroke="#8f4c36" stroke-width="0.85"/>
<line x1="446.97" y1="420.04" x2="461.76" y2="413.95" stroke="#8f4c36" stroke-width="0.85"/>
<line x1="446.10" y1="406.02" x2="446.10" y2="439.60" stroke="#2f3c44" stroke-width="0.7"/>
<line x1="228" y1="409.1" x2="249.8" y2="409.1" stroke="#3b7b75" stroke-width="3.6"/>
<polygon points="248.90,405.40 255.30,409.10 248.90,412.80" fill="#3b7b75"/>
<line x1="394.5" y1="409.1" x2="416.1" y2="409.1" stroke="#3b7b75" stroke-width="3.6"/>
<polygon points="415.20,405.40 421.60,409.10 415.20,412.80" fill="#3b7b75"/>
<polyline points="491.00,295.00 491.00,314.20 158.90,314.20 158.90,300.00" fill="none" stroke="#3b7b75" stroke-width="3.2"/>
<polygon points="154.60,301.50 158.90,294.20 163.20,301.50" fill="#3b7b75"/>
<polyline points="491.00,447.00 491.00,466.60 158.90,466.60 158.90,452.00" fill="none" stroke="#3b7b75" stroke-width="3.2"/>
<polygon points="154.60,453.50 158.90,446.20 163.20,453.50" fill="#3b7b75"/>
<line x1="115.2" y1="256.7" x2="121.5" y2="295" stroke="#e0472a" stroke-width="1.4"/>
<circle cx="115.2" cy="256.7" r="2.1" fill="#e0472a"/>
<line x1="135.8" y1="257.2" x2="129" y2="295" stroke="#e0472a" stroke-width="1.4"/>
<circle cx="135.8" cy="257.2" r="2.1" fill="#e0472a"/>
<text x="126.7" y="301.8" font-size="5.7" fill="#333" text-anchor="middle">Riscaldamento</text>
<line x1="281.2" y1="256.7" x2="274.7" y2="295.3" stroke="#3c56a6" stroke-width="1.4"/>
<circle cx="281.2" cy="256.7" r="2.1" fill="#3c56a6"/>
<line x1="301.8" y1="257.2" x2="304.9" y2="293.8" stroke="#e0472a" stroke-width="1.4"/>
<circle cx="301.8" cy="257.2" r="2.1" fill="#e0472a"/>
<text x="251.5" y="300.6" font-size="5.7" fill="#333">Sbrinamento</text>
<text x="287.2" y="300.6" font-size="5.7" fill="#333">Riscaldamento</text>
<line x1="446.2" y1="256.7" x2="438.8" y2="296" stroke="#e0472a" stroke-width="1.4"/>
<circle cx="446.2" cy="256.7" r="2.1" fill="#e0472a"/>
<line x1="466.8" y1="257.2" x2="472" y2="295" stroke="#3c56a6" stroke-width="1.4"/>
<circle cx="466.8" cy="257.2" r="2.1" fill="#3c56a6"/>
<text x="416" y="301" font-size="5.7" fill="#333">Riscaldamento</text>
<text x="454.9" y="301" font-size="5.7" fill="#333">Sbrinamento</text>
<line x1="123" y1="416.4" x2="122.6" y2="448" stroke="#e0472a" stroke-width="1.4"/>
<circle cx="123" cy="416.4" r="2.1" fill="#e0472a"/>
<line x1="146.2" y1="408.6" x2="128.9" y2="448" stroke="#e0472a" stroke-width="1.4"/>
<circle cx="146.2" cy="408.6" r="2.1" fill="#e0472a"/>
<text x="126.6" y="453.3" font-size="5.7" fill="#333" text-anchor="middle">Riscaldamento</text>
<line x1="272.6" y1="415.2" x2="271.3" y2="448" stroke="#3c56a6" stroke-width="1.4"/>
<circle cx="272.6" cy="415.2" r="2.1" fill="#3c56a6"/>
<line x1="309.7" y1="408.9" x2="304.7" y2="448" stroke="#e0472a" stroke-width="1.4"/>
<circle cx="309.7" cy="408.9" r="2.1" fill="#e0472a"/>
<text x="250" y="452.5" font-size="5.7" fill="#333">Riscaldamento</text>
<text x="291.4" y="452.5" font-size="5.7" fill="#333">Sbrinamento</text>
<line x1="437.2" y1="416.6" x2="438.8" y2="446.7" stroke="#e0472a" stroke-width="1.4"/>
<circle cx="437.2" cy="416.6" r="2.1" fill="#e0472a"/>
<line x1="476.3" y1="408.7" x2="471.5" y2="446.7" stroke="#3c56a6" stroke-width="1.4"/>
<circle cx="476.3" cy="408.7" r="2.1" fill="#3c56a6"/>
<text x="412.4" y="452" font-size="5.7" fill="#333">Riscaldamento</text>
<text x="454.6" y="452" font-size="5.7" fill="#333">Sbrinamento</text>
<path d="M331.9,268.9 H408 Q412,268.9 412,272.9 V304.7 Q412,308.7 408,308.7 H331.9 Q327.9,308.7 327.9,304.7 V289.5 L316.3,280.5 L327.9,276.5 V272.9 Q327.9,268.9 331.9,268.9 Z" fill="#fff" stroke="#3d5a70" stroke-width="1"/>
<text x="331.79999999999995" y="279.8" font-size="6.8" fill="#1e1e1e">Le due porzioni della</text>
<text x="331.79999999999995" y="286.95" font-size="6.8" fill="#1e1e1e">batteria di scambio</text>
<text x="331.79999999999995" y="294.1" font-size="6.8" fill="#1e1e1e">eseguono lo sbrinamento</text>
<text x="331.79999999999995" y="301.25" font-size="6.8" fill="#1e1e1e">alternativamente.</text>
<path d="M331.7,420.7 H404.5 Q408.5,420.7 408.5,424.7 V457.6 Q408.5,461.6 404.5,461.6 H331.7 Q327.7,461.6 327.7,457.6 V439.5 L316.3,430.5 L327.7,426.5 V424.7 Q327.7,420.7 331.7,420.7 Z" fill="#fff" stroke="#3d5a70" stroke-width="1"/>
<text x="331.59999999999997" y="431.6" font-size="6.8" fill="#1e1e1e">Lo sbrinamento</text>
<text x="331.59999999999997" y="438.75" font-size="6.8" fill="#1e1e1e">viene alternato sui</text>
<text x="331.59999999999997" y="445.9" font-size="6.8" fill="#1e1e1e">diversi moduli che</text>
<text x="331.59999999999997" y="453.05" font-size="6.8" fill="#1e1e1e">compongono il sistema</text>
<path d="M502,272.7 H529.2 L532.2,259.2 L536.5,272.7 H567.6 Q572.6,272.7 572.6,277.7 V343.8 Q572.6,348.8 567.6,348.8 H567.2 L555.6,378 L559,348.8 H502 Q497,348.8 497,343.8 V277.7 Q497,272.7 502,272.7 Z" fill="#fff" stroke="#d17f86" stroke-width="1"/>
<text x="503.3" y="298.0" font-size="6.8" fill="#222">Con la funzione</text>
<text x="503.3" y="305.25" font-size="6.8" fill="#222">di riscaldamento</text>
<text x="503.3" y="312.5" font-size="6.8" fill="#222">continuo, il sistema</text>
<text x="503.3" y="319.75" font-size="6.8" fill="#222">continua a erogare</text>
<text x="503.3" y="327.0" font-size="6.8" fill="#222">calore.</text>
<circle cx="49.4" cy="522.9" r="14.2" fill="#df6f2e"/>
<text x="49.4" y="525.6999999999999" font-size="6.2" fill="#fff4e8" font-weight="bold" text-anchor="middle">NOVITÀ</text>
<rect x="71.5" y="509.3" width="45.6" height="27.8" fill="#fff" stroke="#d4868e" stroke-width="1"/>
<rect x="71.5" y="508.8" width="4.4" height="28.9" fill="#d0212e"/>
<path d="M80.2,525.6 A7.3,7.3 0 0 1 90.8,514.3" fill="none" stroke="#777" stroke-width="0.7"/>
<path d="M92.4,516.8 A7.3,7.3 0 0 1 81.6,526.3" fill="none" stroke="#777" stroke-width="0.7"/>
<polygon points="90.2,513.4 92.0,514.8 90.0,515.4" fill="#777"/>
<polygon points="80.8,527.0 79.2,525.4 81.2,524.9" fill="#777"/>
<circle cx="85.9" cy="520.4" r="3.0" fill="none" stroke="#666" stroke-width="0.8"/>
<circle cx="85.9" cy="520.4" r="4.4" fill="none" stroke="#777" stroke-width="1.1" stroke-dasharray="0.7,0.75"/>
<text x="94.7" y="529.2" font-size="4.9" fill="#555" font-weight="bold">Preheat</text>
<text x="85.1" y="535.1" font-size="6.75" fill="#555" font-weight="bold">Defrost</text>
<text transform="translate(120.9,519.1) scale(1,1.03)" x="0" y="0" font-size="13.6" fill="#ab214b" font-weight="bold">Preheat defrost operation</text>
<text x="120.9" y="539.6" font-size="10.27" fill="#1f1f1f" stroke="#1f1f1f" stroke-width="0.18">Le nuove unità esterne YNW sono</text>
<text x="32.5" y="553.2" font-size="10.27" fill="#1f1f1f" stroke="#1f1f1f" stroke-width="0.18" xml:space="preserve">equipaggiate con la funzione Preheat defrost (attivabile da unità</text>
<text x="32.5" y="566.78" font-size="10.27" fill="#1f1f1f" stroke="#1f1f1f" stroke-width="0.18" xml:space="preserve">esterna) che incrementa la temperatura di mandata dell’aria</text>
<text x="32.5" y="580.36" font-size="10.27" fill="#1f1f1f" stroke="#1f1f1f" stroke-width="0.18" xml:space="preserve">prima che il sistema esegua le operazioni di sbrinamento</text>
<text x="32.5" y="593.94" font-size="10.27" fill="#1f1f1f" stroke="#1f1f1f" stroke-width="0.18" xml:space="preserve">(tipicamente durante lo sbrinamento le unità interne erogano</text>
<text x="32.5" y="607.52" font-size="10.27" fill="#1f1f1f" stroke="#1f1f1f" stroke-width="0.18" xml:space="preserve">aria ad una temperatura più bassa)  in modo da “calmierare”</text>
<text x="32.5" y="621.1" font-size="10.27" fill="#1f1f1f" stroke="#1f1f1f" stroke-width="0.18" xml:space="preserve">il lieve abbassamento di temperatura in ambiente durante lo</text>
<text x="32.5" y="634.68" font-size="10.27" fill="#1f1f1f" stroke="#1f1f1f" stroke-width="0.18" xml:space="preserve">sbrinamento.</text>
<circle cx="354.5" cy="523.4" r="14.4" fill="#df6f2e"/>
<text x="354.5" y="526.1999999999999" font-size="6.2" fill="#fff4e8" font-weight="bold" text-anchor="middle">NOVITÀ</text>
<rect x="379.3" y="509.3" width="45.4" height="27.6" fill="#fff" stroke="#d4868e" stroke-width="1"/>
<rect x="379.5" y="508.8" width="4.4" height="28.6" fill="#d0212e"/>
<text x="387.4" y="525.5" font-size="9.3" fill="#555" stroke="#555" stroke-width="0.2">Low</text>
<text x="387.4" y="534.0" font-size="9.3" fill="#555" stroke="#555" stroke-width="0.2">Noise</text>
<path d="M420.8,515.3 C418.5,512.5 413.5,512.2 411,515 C408.8,517.5 409.5,521.5 412.2,524 C414,525.8 414,528 414.8,530.2 C415.8,533 419.8,533.2 421.6,530.4" fill="none" stroke="#666" stroke-width="1.15"/>
<path d="M420.4,519.8 C419.5,517.6 416.2,517.3 415,519.6 C414,521.6 415.6,523.6 417.6,524.6 C418.6,525.1 419.2,525.6 419.4,526.4" fill="none" stroke="#666" stroke-width="1.0"/>
<circle cx="420" cy="526.3" r="0.9" fill="#666"/>
<text transform="translate(429.0,519.1) scale(1,1.03)" x="0" y="0" font-size="13.6" fill="#ab214b" font-weight="bold">Funzione “Low Noise”</text>
<text transform="translate(429.0,532.5) scale(1,1.03)" x="0" y="0" font-size="13.6" fill="#ab214b" font-weight="bold">avanzata</text>
<text x="339.7" y="553.1" font-size="10.27" fill="#1f1f1f" stroke="#1f1f1f" stroke-width="0.18">La modalità “Low noise” può adesso essere selezionata sulla</text>
<text x="339.7" y="566.63" font-size="10.27" fill="#1f1f1f" stroke="#1f1f1f" stroke-width="0.18">base di 5 differenti impostazioni: 85%, 70%, 60% e 50%</text>
<text x="339.7" y="580.16" font-size="10.27" fill="#1f1f1f" stroke="#1f1f1f" stroke-width="0.18">(valori riferiti alla velocità di ventilazione). L’attenuazione</text>
<text x="339.7" y="593.69" font-size="10.27" fill="#1f1f1f" stroke="#1f1f1f" stroke-width="0.18">della rumorosità è direttamente configurabile dalla control</text>
<text x="339.7" y="607.22" font-size="10.27" fill="#1f1f1f" stroke="#1f1f1f" stroke-width="0.18">board dell’unità esterna (necessario connettore PAC-SC36NA</text>
<text x="339.7" y="620.75" font-size="10.27" fill="#1f1f1f" stroke="#1f1f1f" stroke-width="0.18">opzionale). Le differenti impostazioni possono essere scelte</text>
<text x="339.7" y="634.28" font-size="10.27" fill="#1f1f1f" stroke="#1f1f1f" stroke-width="0.18">sulla base delle esigenze installative (in applicazioni con</text>
<text x="339.7" y="647.81" font-size="10.27" fill="#1f1f1f" stroke="#1f1f1f" stroke-width="0.18">particolari vincoli di rumorosità).</text>
<rect x="32.5" y="652.2" width="290.9" height="219.7" fill="#fff" stroke="#dcdcdc" stroke-width="1.2"/>
<text x="40.4" y="669.8" font-size="6.75" fill="#5e5e5e">PREHEAT DEFROST ON/OFF</text>
<line x1="32.5" y1="674.8" x2="65" y2="674.8" stroke="#cf8f96" stroke-width="1"/>
<rect x="105.3" y="690.7" width="36.89999999999999" height="8.9" fill="#2e4755"/>
<text x="123.75" y="697.1" font-size="4.8" fill="#fff" font-weight="bold" text-anchor="middle" textLength="34.89999999999999" lengthAdjust="spacingAndGlyphs">Riscaldamento</text>
<rect x="145.4" y="690.7" width="65.6" height="8.9" fill="#2e4755"/>
<text x="178.2" y="697.1" font-size="4.8" fill="#fff" font-weight="bold" text-anchor="middle" textLength="63.599999999999994" lengthAdjust="spacingAndGlyphs">Preriscaldo pre-sbrinamento</text>
<rect x="214.8" y="690.7" width="32.19999999999999" height="8.9" fill="#2e4755"/>
<text x="230.9" y="697.1" font-size="4.8" fill="#fff" font-weight="bold" text-anchor="middle" textLength="30.19999999999999" lengthAdjust="spacingAndGlyphs">Sbrinamento</text>
<rect x="255.8" y="690.7" width="36.5" height="8.9" fill="#2e4755"/>
<text x="274.05" y="697.1" font-size="4.8" fill="#fff" font-weight="bold" text-anchor="middle" textLength="34.5" lengthAdjust="spacingAndGlyphs">Riscaldamento</text>
<line x1="141" y1="703.7" x2="283" y2="703.7" stroke="#d9646c" stroke-width="0.6"/>
<polygon points="141.30,703.70 143.50,702.30 143.50,705.10" fill="#d9646c"/>
<polygon points="166.70,703.70 164.50,702.30 164.50,705.10" fill="#d9646c"/>
<polygon points="170.60,703.70 172.80,702.30 172.80,705.10" fill="#d9646c"/>
<polygon points="189.60,703.70 187.40,702.30 187.40,705.10" fill="#d9646c"/>
<polygon points="193.40,703.70 195.60,702.30 195.60,705.10" fill="#d9646c"/>
<polygon points="252.80,703.70 250.60,702.30 250.60,705.10" fill="#d9646c"/>
<polygon points="256.60,703.70 258.80,702.30 258.80,705.10" fill="#d9646c"/>
<polygon points="279.00,703.70 276.80,702.30 276.80,705.10" fill="#d9646c"/>
<rect x="104.7" y="706.5" width="205.2" height="71" fill="#fff" stroke="#b8b8b8" stroke-width="0.8"/>
<rect x="104.4" y="779.3" width="206" height="55.6" fill="#fff" stroke="#c9505a" stroke-width="1"/>
<line x1="168.2" y1="701" x2="168.2" y2="835" stroke="#e07a80" stroke-width="0.6" stroke-dasharray="2,1.5"/>
<line x1="191.5" y1="701" x2="191.5" y2="835" stroke="#e07a80" stroke-width="0.6" stroke-dasharray="2,1.5"/>
<line x1="254.6" y1="701" x2="254.6" y2="835" stroke="#e07a80" stroke-width="0.6" stroke-dasharray="2,1.5"/>
<text x="107.7" y="715.4" font-size="5.7" fill="#222" font-weight="bold">Temperatura di</text>
<text x="107.7" y="723.4" font-size="5.7" fill="#222" font-weight="bold">mandata</text>
<line x1="140" y1="735.2" x2="306" y2="735.2" stroke="#c4c4c4" stroke-width="0.6"/>
<line x1="168" y1="735.2" x2="196" y2="735.2" stroke="#555" stroke-width="0.9" stroke-dasharray="0.9,0.9"/>
<polyline points="140.00,735.20 168.00,735.20 174.60,716.30 191.50,716.30 197.30,770.60 255.50,770.60 261.50,735.20" fill="none" stroke="#3b8c91" stroke-width="1.3" stroke-linejoin="round"/>
<line x1="197.3" y1="771.3" x2="255.5" y2="771.3" stroke="#444" stroke-width="0.7" stroke-dasharray="0.9,0.9"/>
<ellipse cx="177.3" cy="734.9" rx="17.7" ry="14.2" fill="none" stroke="#d04a55" stroke-width="0.9"/>
<rect x="206" y="722" width="83" height="20.3" rx="2" fill="#a0a0a0" opacity="0.35"/>
<path d="M207,721 H286 Q288,721 288,723 V739.2 Q288,741.2 286,741.2 H207 Q205,741.2 205,739.2 V735 L195.5,733.5 L205,729 V723 Q205,721 207,721 Z" fill="#d3212f"/>
<text x="209.5" y="729.6" font-size="5.74" fill="#fff" font-weight="bold">Incremento della Temp. di</text>
<text x="209.5" y="737.0" font-size="5.74" fill="#fff" font-weight="bold">mandata fino al 20%</text>
<circle cx="261.2" cy="752" r="1" fill="#222"/><line x1="261.2" y1="752" x2="269.4" y2="752" stroke="#222" stroke-width="0.8"/>
<text x="272" y="755.6" font-size="5.6" fill="#333">Senza</text>
<text x="272" y="761.8" font-size="5.6" fill="#333">preheat</text>
<text x="272" y="768.0" font-size="5.6" fill="#333">defrost</text>
<text x="305.7" y="788.4" font-size="5.7" fill="#333" text-anchor="end">Set Point</text>
<line x1="107" y1="790.8" x2="303" y2="790.8" stroke="#555" stroke-width="1" stroke-dasharray="3,2.2"/>
<text x="107.7" y="798.0" font-size="5.7" fill="#222" font-weight="bold">Temperatura</text>
<text x="107.7" y="804.6" font-size="5.7" fill="#222" font-weight="bold">ambiente</text>
<line x1="140" y1="802.8" x2="306" y2="802.8" stroke="#c4c4c4" stroke-width="0.6"/>
<line x1="168" y1="802.6" x2="191.5" y2="802.6" stroke="#555" stroke-width="0.9" stroke-dasharray="0.9,0.9"/>
<polyline points="191.50,802.60 259.30,834.60" fill="none" stroke="#555" stroke-width="0.8"/>
<polyline points="259.30,834.60 275.30,816.00" fill="none" stroke="#444" stroke-width="0.8" stroke-dasharray="0.9,0.9"/>
<polyline points="140.00,802.40 168.00,802.40 175.50,793.30 191.50,793.30 200.00,799.00 255.70,825.20 261.40,825.20 278.90,802.50" fill="none" stroke="#3b8c91" stroke-width="1.2" stroke-linejoin="round"/>
<rect x="118" y="810.3" width="81.8" height="8.1" fill="#fff" stroke="#c9505a" stroke-width="0.7"/>
<text x="120.7" y="816.3" font-size="5.1" fill="#222">Lieve incremento temperatura *1</text>
<circle cx="277.7" cy="817.8" r="1" fill="#222"/><line x1="277.7" y1="817.8" x2="284.5" y2="817.8" stroke="#222" stroke-width="0.8"/>
<text x="287" y="819.3" font-size="5.6" fill="#333">Senza</text>
<text x="287" y="825.5" font-size="5.6" fill="#333">preheat</text>
<text x="287" y="831.7" font-size="5.6" fill="#333">defrost</text>
<text x="41.8" y="729.4" font-size="6.0" fill="#555">Esempio</text>
<text x="41.8" y="737.2" font-size="6.76" fill="#555">Unità esterna 18HP</text>
<text x="41.8" y="744.5" font-size="6.76" fill="#555">Temp. amb. 20°C</text>
<text x="41.8" y="751.8" font-size="6.76" fill="#555">Temp. esterna</text>
<text x="41.8" y="759.1" font-size="6.76" fill="#555">2°/1CWB</text>
<text x="41.8" y="766.4" font-size="6.76" fill="#555">Carico termico</text>
<text x="41.8" y="773.7" font-size="6.76" fill="#555">100%</text>
<text x="41.8" y="804.3" font-size="5.6" fill="#c8323f" font-weight="bold">La temperatura</text>
<text x="41.8" y="811.5" font-size="5.6" fill="#c8323f" font-weight="bold">ambiente incrementa</text>
<text x="41.8" y="818.7" font-size="5.6" fill="#c8323f" font-weight="bold">prima del defrost<tspan font-size="3.6" dy="-2">*1</tspan></text>
<text x="104.7" y="844.2" font-size="5.64" fill="#222">*1 dipendentemente dal carico termico</text>
<text x="104.7" y="850.4" font-size="5.64" fill="#222">La temperatura ambiente non supera mai la temperatura di Set</text>
<text x="104.7" y="856.6" font-size="5.64" fill="#222">Point</text>
<rect x="340.6" y="665.6" width="291" height="206.3" fill="#fff" stroke="#dcdcdc" stroke-width="1.2"/>
<text x="347.4" y="682.7" font-size="6.75" fill="#5e5e5e">FUNZIONE “LOW NOISE” AVANZATA</text>
<line x1="340.6" y1="687.6" x2="371.8" y2="687.6" stroke="#cf8f96" stroke-width="1"/>
<polygon points="357,731 443,731 443,846 357,846" fill="#ebe8de"/>
<rect x="416.5" y="731" width="26.5" height="115" fill="#e6e3d8"/>
<rect x="408.5" y="731" width="8" height="115" fill="#e2dfd3"/>
<path d="M367.8,707.2 Q367.6,705.6 370,705.2 Q400,703.2 430.5,705.2 Q432.6,705.6 432.4,707.2 Q432,710 429.2,711.6 Q427.6,713 427.8,716 L428.6,730 L371.4,730 L372.2,716 Q372.4,713 370.8,711.6 Q368,710 367.8,707.2 Z" fill="url(#hood)"/>
<path d="M368.5,707.6 Q400,710.5 431.6,707.6" fill="none" stroke="#d9d5c7" stroke-width="0.8"/>
<path d="M371.5,728.5 Q400,730.5 428.5,728.5 L428.6,730.5 L371.4,730.5 Z" fill="#d8d4c6"/>
<line x1="357" y1="731" x2="443" y2="731" stroke="#d6d2c4" stroke-width="1"/>
<rect x="367.8" y="731.8" width="39.8" height="63.2" fill="#d9dcd9"/>
<rect x="368.80" y="732.60" width="9.0" height="14.6" fill="#cdd3d7" stroke="#a4a9ac" stroke-width="0.5"/>
<line x1="369.40" y1="734.68" x2="377.20" y2="734.68" stroke="#f4f6f7" stroke-width="0.9"/>
<line x1="369.40" y1="736.76" x2="377.20" y2="736.76" stroke="#f4f6f7" stroke-width="0.9"/>
<line x1="369.40" y1="738.84" x2="377.20" y2="738.84" stroke="#f4f6f7" stroke-width="0.9"/>
<line x1="369.40" y1="740.92" x2="377.20" y2="740.92" stroke="#f4f6f7" stroke-width="0.9"/>
<line x1="369.40" y1="743.00" x2="377.20" y2="743.00" stroke="#f4f6f7" stroke-width="0.9"/>
<line x1="369.40" y1="745.08" x2="377.20" y2="745.08" stroke="#f4f6f7" stroke-width="0.9"/>
<rect x="378.40" y="732.60" width="9.0" height="14.6" fill="#cdd3d7" stroke="#a4a9ac" stroke-width="0.5"/>
<line x1="379.00" y1="734.68" x2="386.80" y2="734.68" stroke="#f4f6f7" stroke-width="0.9"/>
<line x1="379.00" y1="736.76" x2="386.80" y2="736.76" stroke="#f4f6f7" stroke-width="0.9"/>
<line x1="379.00" y1="738.84" x2="386.80" y2="738.84" stroke="#f4f6f7" stroke-width="0.9"/>
<line x1="379.00" y1="740.92" x2="386.80" y2="740.92" stroke="#f4f6f7" stroke-width="0.9"/>
<line x1="379.00" y1="743.00" x2="386.80" y2="743.00" stroke="#f4f6f7" stroke-width="0.9"/>
<line x1="379.00" y1="745.08" x2="386.80" y2="745.08" stroke="#f4f6f7" stroke-width="0.9"/>
<rect x="388.00" y="732.60" width="9.0" height="14.6" fill="#cdd3d7" stroke="#a4a9ac" stroke-width="0.5"/>
<line x1="388.60" y1="734.68" x2="396.40" y2="734.68" stroke="#f4f6f7" stroke-width="0.9"/>
<line x1="388.60" y1="736.76" x2="396.40" y2="736.76" stroke="#f4f6f7" stroke-width="0.9"/>
<line x1="388.60" y1="738.84" x2="396.40" y2="738.84" stroke="#f4f6f7" stroke-width="0.9"/>
<line x1="388.60" y1="740.92" x2="396.40" y2="740.92" stroke="#f4f6f7" stroke-width="0.9"/>
<line x1="388.60" y1="743.00" x2="396.40" y2="743.00" stroke="#f4f6f7" stroke-width="0.9"/>
<line x1="388.60" y1="745.08" x2="396.40" y2="745.08" stroke="#f4f6f7" stroke-width="0.9"/>
<rect x="397.60" y="732.60" width="9.0" height="14.6" fill="#cdd3d7" stroke="#a4a9ac" stroke-width="0.5"/>
<line x1="398.20" y1="734.68" x2="406.00" y2="734.68" stroke="#f4f6f7" stroke-width="0.9"/>
<line x1="398.20" y1="736.76" x2="406.00" y2="736.76" stroke="#f4f6f7" stroke-width="0.9"/>
<line x1="398.20" y1="738.84" x2="406.00" y2="738.84" stroke="#f4f6f7" stroke-width="0.9"/>
<line x1="398.20" y1="740.92" x2="406.00" y2="740.92" stroke="#f4f6f7" stroke-width="0.9"/>
<line x1="398.20" y1="743.00" x2="406.00" y2="743.00" stroke="#f4f6f7" stroke-width="0.9"/>
<line x1="398.20" y1="745.08" x2="406.00" y2="745.08" stroke="#f4f6f7" stroke-width="0.9"/>
<rect x="368.80" y="748.10" width="9.0" height="14.6" fill="#cdd3d7" stroke="#a4a9ac" stroke-width="0.5"/>
<line x1="369.40" y1="750.18" x2="377.20" y2="750.18" stroke="#f4f6f7" stroke-width="0.9"/>
<line x1="369.40" y1="752.26" x2="377.20" y2="752.26" stroke="#f4f6f7" stroke-width="0.9"/>
<line x1="369.40" y1="754.34" x2="377.20" y2="754.34" stroke="#f4f6f7" stroke-width="0.9"/>
<line x1="369.40" y1="756.42" x2="377.20" y2="756.42" stroke="#f4f6f7" stroke-width="0.9"/>
<line x1="369.40" y1="758.50" x2="377.20" y2="758.50" stroke="#f4f6f7" stroke-width="0.9"/>
<line x1="369.40" y1="760.58" x2="377.20" y2="760.58" stroke="#f4f6f7" stroke-width="0.9"/>
<rect x="378.40" y="748.10" width="9.0" height="14.6" fill="#cdd3d7" stroke="#a4a9ac" stroke-width="0.5"/>
<line x1="379.00" y1="750.18" x2="386.80" y2="750.18" stroke="#f4f6f7" stroke-width="0.9"/>
<line x1="379.00" y1="752.26" x2="386.80" y2="752.26" stroke="#f4f6f7" stroke-width="0.9"/>
<line x1="379.00" y1="754.34" x2="386.80" y2="754.34" stroke="#f4f6f7" stroke-width="0.9"/>
<line x1="379.00" y1="756.42" x2="386.80" y2="756.42" stroke="#f4f6f7" stroke-width="0.9"/>
<line x1="379.00" y1="758.50" x2="386.80" y2="758.50" stroke="#f4f6f7" stroke-width="0.9"/>
<line x1="379.00" y1="760.58" x2="386.80" y2="760.58" stroke="#f4f6f7" stroke-width="0.9"/>
<rect x="388.00" y="748.10" width="9.0" height="14.6" fill="#cdd3d7" stroke="#a4a9ac" stroke-width="0.5"/>
<line x1="388.60" y1="750.18" x2="396.40" y2="750.18" stroke="#f4f6f7" stroke-width="0.9"/>
<line x1="388.60" y1="752.26" x2="396.40" y2="752.26" stroke="#f4f6f7" stroke-width="0.9"/>
<line x1="388.60" y1="754.34" x2="396.40" y2="754.34" stroke="#f4f6f7" stroke-width="0.9"/>
<line x1="388.60" y1="756.42" x2="396.40" y2="756.42" stroke="#f4f6f7" stroke-width="0.9"/>
<line x1="388.60" y1="758.50" x2="396.40" y2="758.50" stroke="#f4f6f7" stroke-width="0.9"/>
<line x1="388.60" y1="760.58" x2="396.40" y2="760.58" stroke="#f4f6f7" stroke-width="0.9"/>
<rect x="397.60" y="748.10" width="9.0" height="14.6" fill="#cdd3d7" stroke="#a4a9ac" stroke-width="0.5"/>
<line x1="398.20" y1="750.18" x2="406.00" y2="750.18" stroke="#f4f6f7" stroke-width="0.9"/>
<line x1="398.20" y1="752.26" x2="406.00" y2="752.26" stroke="#f4f6f7" stroke-width="0.9"/>
<line x1="398.20" y1="754.34" x2="406.00" y2="754.34" stroke="#f4f6f7" stroke-width="0.9"/>
<line x1="398.20" y1="756.42" x2="406.00" y2="756.42" stroke="#f4f6f7" stroke-width="0.9"/>
<line x1="398.20" y1="758.50" x2="406.00" y2="758.50" stroke="#f4f6f7" stroke-width="0.9"/>
<line x1="398.20" y1="760.58" x2="406.00" y2="760.58" stroke="#f4f6f7" stroke-width="0.9"/>
<rect x="368.80" y="763.60" width="9.0" height="14.6" fill="#cdd3d7" stroke="#a4a9ac" stroke-width="0.5"/>
<line x1="369.40" y1="765.68" x2="377.20" y2="765.68" stroke="#f4f6f7" stroke-width="0.9"/>
<line x1="369.40" y1="767.76" x2="377.20" y2="767.76" stroke="#f4f6f7" stroke-width="0.9"/>
<line x1="369.40" y1="769.84" x2="377.20" y2="769.84" stroke="#f4f6f7" stroke-width="0.9"/>
<line x1="369.40" y1="771.92" x2="377.20" y2="771.92" stroke="#f4f6f7" stroke-width="0.9"/>
<line x1="369.40" y1="774.00" x2="377.20" y2="774.00" stroke="#f4f6f7" stroke-width="0.9"/>
<line x1="369.40" y1="776.08" x2="377.20" y2="776.08" stroke="#f4f6f7" stroke-width="0.9"/>
<rect x="378.40" y="763.60" width="9.0" height="14.6" fill="#cdd3d7" stroke="#a4a9ac" stroke-width="0.5"/>
<line x1="379.00" y1="765.68" x2="386.80" y2="765.68" stroke="#f4f6f7" stroke-width="0.9"/>
<line x1="379.00" y1="767.76" x2="386.80" y2="767.76" stroke="#f4f6f7" stroke-width="0.9"/>
<line x1="379.00" y1="769.84" x2="386.80" y2="769.84" stroke="#f4f6f7" stroke-width="0.9"/>
<line x1="379.00" y1="771.92" x2="386.80" y2="771.92" stroke="#f4f6f7" stroke-width="0.9"/>
<line x1="379.00" y1="774.00" x2="386.80" y2="774.00" stroke="#f4f6f7" stroke-width="0.9"/>
<line x1="379.00" y1="776.08" x2="386.80" y2="776.08" stroke="#f4f6f7" stroke-width="0.9"/>
<rect x="388.00" y="763.60" width="9.0" height="14.6" fill="#cdd3d7" stroke="#a4a9ac" stroke-width="0.5"/>
<line x1="388.60" y1="765.68" x2="396.40" y2="765.68" stroke="#f4f6f7" stroke-width="0.9"/>
<line x1="388.60" y1="767.76" x2="396.40" y2="767.76" stroke="#f4f6f7" stroke-width="0.9"/>
<line x1="388.60" y1="769.84" x2="396.40" y2="769.84" stroke="#f4f6f7" stroke-width="0.9"/>
<line x1="388.60" y1="771.92" x2="396.40" y2="771.92" stroke="#f4f6f7" stroke-width="0.9"/>
<line x1="388.60" y1="774.00" x2="396.40" y2="774.00" stroke="#f4f6f7" stroke-width="0.9"/>
<line x1="388.60" y1="776.08" x2="396.40" y2="776.08" stroke="#f4f6f7" stroke-width="0.9"/>
<rect x="397.60" y="763.60" width="9.0" height="14.6" fill="#cdd3d7" stroke="#a4a9ac" stroke-width="0.5"/>
<line x1="398.20" y1="765.68" x2="406.00" y2="765.68" stroke="#f4f6f7" stroke-width="0.9"/>
<line x1="398.20" y1="767.76" x2="406.00" y2="767.76" stroke="#f4f6f7" stroke-width="0.9"/>
<line x1="398.20" y1="769.84" x2="406.00" y2="769.84" stroke="#f4f6f7" stroke-width="0.9"/>
<line x1="398.20" y1="771.92" x2="406.00" y2="771.92" stroke="#f4f6f7" stroke-width="0.9"/>
<line x1="398.20" y1="774.00" x2="406.00" y2="774.00" stroke="#f4f6f7" stroke-width="0.9"/>
<line x1="398.20" y1="776.08" x2="406.00" y2="776.08" stroke="#f4f6f7" stroke-width="0.9"/>
<rect x="368.80" y="779.10" width="9.0" height="14.6" fill="#cdd3d7" stroke="#a4a9ac" stroke-width="0.5"/>
<line x1="369.40" y1="781.18" x2="377.20" y2="781.18" stroke="#f4f6f7" stroke-width="0.9"/>
<line x1="369.40" y1="783.26" x2="377.20" y2="783.26" stroke="#f4f6f7" stroke-width="0.9"/>
<line x1="369.40" y1="785.34" x2="377.20" y2="785.34" stroke="#f4f6f7" stroke-width="0.9"/>
<line x1="369.40" y1="787.42" x2="377.20" y2="787.42" stroke="#f4f6f7" stroke-width="0.9"/>
<line x1="369.40" y1="789.50" x2="377.20" y2="789.50" stroke="#f4f6f7" stroke-width="0.9"/>
<line x1="369.40" y1="791.58" x2="377.20" y2="791.58" stroke="#f4f6f7" stroke-width="0.9"/>
<rect x="378.40" y="779.10" width="9.0" height="14.6" fill="#cdd3d7" stroke="#a4a9ac" stroke-width="0.5"/>
<line x1="379.00" y1="781.18" x2="386.80" y2="781.18" stroke="#f4f6f7" stroke-width="0.9"/>
<line x1="379.00" y1="783.26" x2="386.80" y2="783.26" stroke="#f4f6f7" stroke-width="0.9"/>
<line x1="379.00" y1="785.34" x2="386.80" y2="785.34" stroke="#f4f6f7" stroke-width="0.9"/>
<line x1="379.00" y1="787.42" x2="386.80" y2="787.42" stroke="#f4f6f7" stroke-width="0.9"/>
<line x1="379.00" y1="789.50" x2="386.80" y2="789.50" stroke="#f4f6f7" stroke-width="0.9"/>
<line x1="379.00" y1="791.58" x2="386.80" y2="791.58" stroke="#f4f6f7" stroke-width="0.9"/>
<rect x="388.00" y="779.10" width="9.0" height="14.6" fill="#cdd3d7" stroke="#a4a9ac" stroke-width="0.5"/>
<line x1="388.60" y1="781.18" x2="396.40" y2="781.18" stroke="#f4f6f7" stroke-width="0.9"/>
<line x1="388.60" y1="783.26" x2="396.40" y2="783.26" stroke="#f4f6f7" stroke-width="0.9"/>
<line x1="388.60" y1="785.34" x2="396.40" y2="785.34" stroke="#f4f6f7" stroke-width="0.9"/>
<line x1="388.60" y1="787.42" x2="396.40" y2="787.42" stroke="#f4f6f7" stroke-width="0.9"/>
<line x1="388.60" y1="789.50" x2="396.40" y2="789.50" stroke="#f4f6f7" stroke-width="0.9"/>
<line x1="388.60" y1="791.58" x2="396.40" y2="791.58" stroke="#f4f6f7" stroke-width="0.9"/>
<rect x="397.60" y="779.10" width="9.0" height="14.6" fill="#cdd3d7" stroke="#a4a9ac" stroke-width="0.5"/>
<line x1="398.20" y1="781.18" x2="406.00" y2="781.18" stroke="#f4f6f7" stroke-width="0.9"/>
<line x1="398.20" y1="783.26" x2="406.00" y2="783.26" stroke="#f4f6f7" stroke-width="0.9"/>
<line x1="398.20" y1="785.34" x2="406.00" y2="785.34" stroke="#f4f6f7" stroke-width="0.9"/>
<line x1="398.20" y1="787.42" x2="406.00" y2="787.42" stroke="#f4f6f7" stroke-width="0.9"/>
<line x1="398.20" y1="789.50" x2="406.00" y2="789.50" stroke="#f4f6f7" stroke-width="0.9"/>
<line x1="398.20" y1="791.58" x2="406.00" y2="791.58" stroke="#f4f6f7" stroke-width="0.9"/>
<line x1="368.60" y1="732.6" x2="368.60" y2="794.6" stroke="#80868a" stroke-width="0.8"/>
<line x1="378.20" y1="732.6" x2="378.20" y2="794.6" stroke="#80868a" stroke-width="0.8"/>
<line x1="387.80" y1="732.6" x2="387.80" y2="794.6" stroke="#80868a" stroke-width="0.8"/>
<line x1="397.40" y1="732.6" x2="397.40" y2="794.6" stroke="#80868a" stroke-width="0.8"/>
<line x1="407.00" y1="732.6" x2="407.00" y2="794.6" stroke="#80868a" stroke-width="0.8"/>
<rect x="410.8" y="732.5" width="2.2" height="63" fill="#5b5f60"/>
<rect x="415.0" y="732.5" width="1.8" height="63" fill="#6b6f70"/>
<rect x="410.5" y="747.5" width="7" height="1.5" fill="#e2dfd3"/>
<rect x="410.5" y="763" width="7" height="1.5" fill="#e2dfd3"/>
<rect x="410.5" y="779" width="7" height="1.5" fill="#e2dfd3"/>
<rect x="418.3" y="732.5" width="21.4" height="63.6" fill="#ccd3d7"/>
<line x1="418.5" y1="734.58" x2="439.5" y2="734.58" stroke="#f4f6f7" stroke-width="0.9"/>
<line x1="418.5" y1="736.66" x2="439.5" y2="736.66" stroke="#f4f6f7" stroke-width="0.9"/>
<line x1="418.5" y1="738.74" x2="439.5" y2="738.74" stroke="#f4f6f7" stroke-width="0.9"/>
<line x1="418.5" y1="740.82" x2="439.5" y2="740.82" stroke="#f4f6f7" stroke-width="0.9"/>
<line x1="418.5" y1="742.90" x2="439.5" y2="742.90" stroke="#f4f6f7" stroke-width="0.9"/>
<line x1="418.5" y1="744.98" x2="439.5" y2="744.98" stroke="#f4f6f7" stroke-width="0.9"/>
<line x1="418.5" y1="747.06" x2="439.5" y2="747.06" stroke="#f4f6f7" stroke-width="0.9"/>
<line x1="418.5" y1="749.14" x2="439.5" y2="749.14" stroke="#f4f6f7" stroke-width="0.9"/>
<line x1="418.5" y1="751.22" x2="439.5" y2="751.22" stroke="#f4f6f7" stroke-width="0.9"/>
<line x1="418.5" y1="753.30" x2="439.5" y2="753.30" stroke="#f4f6f7" stroke-width="0.9"/>
<line x1="418.5" y1="755.38" x2="439.5" y2="755.38" stroke="#f4f6f7" stroke-width="0.9"/>
<line x1="418.5" y1="757.46" x2="439.5" y2="757.46" stroke="#f4f6f7" stroke-width="0.9"/>
<line x1="418.5" y1="759.54" x2="439.5" y2="759.54" stroke="#f4f6f7" stroke-width="0.9"/>
<line x1="418.5" y1="761.62" x2="439.5" y2="761.62" stroke="#f4f6f7" stroke-width="0.9"/>
<line x1="418.5" y1="763.70" x2="439.5" y2="763.70" stroke="#f4f6f7" stroke-width="0.9"/>
<line x1="418.5" y1="765.78" x2="439.5" y2="765.78" stroke="#f4f6f7" stroke-width="0.9"/>
<line x1="418.5" y1="767.86" x2="439.5" y2="767.86" stroke="#f4f6f7" stroke-width="0.9"/>
<line x1="418.5" y1="769.94" x2="439.5" y2="769.94" stroke="#f4f6f7" stroke-width="0.9"/>
<line x1="418.5" y1="772.02" x2="439.5" y2="772.02" stroke="#f4f6f7" stroke-width="0.9"/>
<line x1="418.5" y1="774.10" x2="439.5" y2="774.10" stroke="#f4f6f7" stroke-width="0.9"/>
<line x1="418.5" y1="776.18" x2="439.5" y2="776.18" stroke="#f4f6f7" stroke-width="0.9"/>
<line x1="418.5" y1="778.26" x2="439.5" y2="778.26" stroke="#f4f6f7" stroke-width="0.9"/>
<line x1="418.5" y1="780.34" x2="439.5" y2="780.34" stroke="#f4f6f7" stroke-width="0.9"/>
<line x1="418.5" y1="782.42" x2="439.5" y2="782.42" stroke="#f4f6f7" stroke-width="0.9"/>
<line x1="418.5" y1="784.50" x2="439.5" y2="784.50" stroke="#f4f6f7" stroke-width="0.9"/>
<line x1="418.5" y1="786.58" x2="439.5" y2="786.58" stroke="#f4f6f7" stroke-width="0.9"/>
<line x1="418.5" y1="788.66" x2="439.5" y2="788.66" stroke="#f4f6f7" stroke-width="0.9"/>
<line x1="418.5" y1="790.74" x2="439.5" y2="790.74" stroke="#f4f6f7" stroke-width="0.9"/>
<line x1="418.5" y1="792.82" x2="439.5" y2="792.82" stroke="#f4f6f7" stroke-width="0.9"/>
<line x1="418.5" y1="794.90" x2="439.5" y2="794.90" stroke="#f4f6f7" stroke-width="0.9"/>
<line x1="418.5" y1="796" x2="440" y2="796" stroke="#555" stroke-width="1.2"/>
<rect x="359.5" y="797" width="47.5" height="45.5" fill="none" stroke="#dcd8cc" stroke-width="0.6"/>
<line x1="368" y1="808.5" x2="399" y2="808.5" stroke="#dcd8cb" stroke-width="0.7"/>
<line x1="423" y1="808.5" x2="436" y2="808.5" stroke="#d3cfc1" stroke-width="0.9"/>
<line x1="368" y1="816.5" x2="399" y2="816.5" stroke="#dcd8cb" stroke-width="0.7"/>
<line x1="423" y1="816.5" x2="436" y2="816.5" stroke="#d3cfc1" stroke-width="0.9"/>
<line x1="368" y1="824.5" x2="399" y2="824.5" stroke="#dcd8cb" stroke-width="0.7"/>
<line x1="423" y1="824.5" x2="436" y2="824.5" stroke="#d3cfc1" stroke-width="0.9"/>
<line x1="368" y1="833" x2="399" y2="833" stroke="#dcd8cb" stroke-width="0.7"/>
<line x1="423" y1="833" x2="436" y2="833" stroke="#d3cfc1" stroke-width="0.9"/>
<line x1="408.5" y1="731" x2="408.5" y2="846" stroke="#d6d2c5" stroke-width="0.8"/>
<line x1="416.5" y1="731" x2="416.5" y2="846" stroke="#d6d2c5" stroke-width="0.8"/>
<polygon points="392.2,799.8 393.4,797.8 394.6,799.8 393.4,801.8" fill="#d42a2a"/>
<rect x="395.4" y="799.6" width="5.5" height="1.8" fill="#8c8c8c"/>
<rect x="358" y="844" width="84.5" height="3" fill="#d5d2c6"/>
<rect x="357.8" y="845.5" width="9" height="5" fill="#a3a29c"/>
<rect x="433.2" y="845.5" width="9.2" height="5" fill="#a3a29c"/>
<rect x="403" y="846" width="3" height="5.5" fill="#8a8a86"/>
<rect x="389" y="846" width="7" height="2.5" fill="#b5b3ab"/>
<text x="456.3" y="735.5" font-size="10.19" fill="#111" font-weight="bold">Impostazioni Funzione</text>
<text x="456.3" y="749.3" font-size="10.19" fill="#111" stroke="#111" stroke-width="0.18">1) 50%</text>
<text x="456.3" y="763.1" font-size="10.19" fill="#111" stroke="#111" stroke-width="0.18">2) <tspan font-weight="bold" stroke-width="0">60%</tspan></text>
<text x="456.3" y="776.9" font-size="10.19" fill="#111" stroke="#111" stroke-width="0.18">3) <tspan font-weight="bold" stroke-width="0">70%</tspan></text>
<text x="456.3" y="790.7" font-size="10.19" fill="#111" stroke="#111" stroke-width="0.18">4) <tspan font-weight="bold" stroke-width="0">85%</tspan></text>
<text x="456.3" y="804.4" font-size="10.19" fill="#111" stroke="#111" stroke-width="0.18">5) 100% (velocità nominale)</text>
<polyline points="496.4,759.4 511.4,759.4 511.4,787.7 496.4,787.7" fill="none" stroke="#c43544" stroke-width="0.9"/>
<line x1="496.4" y1="773.5" x2="527.2" y2="773.5" stroke="#c43544" stroke-width="0.9"/>
<rect x="527.2" y="758.9" width="83.3" height="28.8" fill="#fff" stroke="#c43544" stroke-width="0.9"/>
<text x="569" y="770.2" font-size="7.3" fill="#222" text-anchor="middle">3 nuovi impostazioni</text>
<text x="569" y="780.2" font-size="7.3" fill="#222" text-anchor="middle">disponibili</text>
<text x="32.4" y="929.4" font-size="8.8" fill="#333" stroke="#333" stroke-width="0.18">22</text>
<line x1="60.4" y1="916.5" x2="60.4" y2="932.4" stroke="#888" stroke-width="0.8"/>
<polygon points="81.20,926.00 84.30,920.63 81.20,915.26 78.10,920.63" fill="#e2232b"/><polygon points="81.20,926.00 84.30,931.37 90.50,931.37 87.40,926.00" fill="#e2232b"/><polygon points="81.20,926.00 75.00,926.00 71.90,931.37 78.10,931.37" fill="#e2232b"/>
<text x="93.1" y="926.0" font-size="7.6" fill="#1a1a1a" font-weight="bold" textLength="38.6" lengthAdjust="spacingAndGlyphs">MITSUBISHI</text>
<text x="93.1" y="932.3" font-size="7.6" fill="#1a1a1a" font-weight="bold" textLength="33.1" lengthAdjust="spacingAndGlyphs">ELECTRIC</text>
</svg>
</body></html>
